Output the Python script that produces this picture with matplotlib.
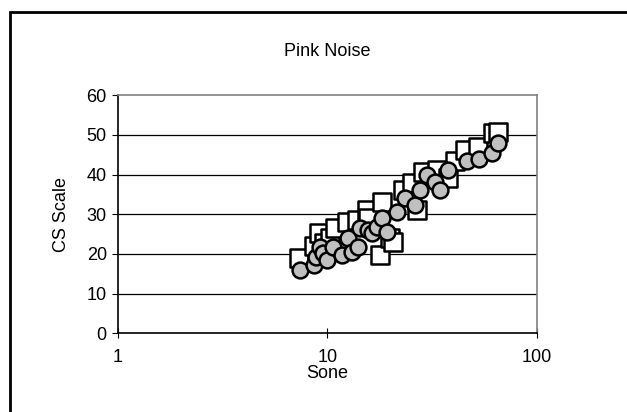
import matplotlib.pyplot as plt
from matplotlib.patches import Rectangle

plt.rcParams['font.family'] = ['Liberation Sans', 'DejaVu Sans']

# squares series (white markers)
sq_x = [7.3, 8.6, 9.1, 9.6, 10.3, 10.9, 12.4, 13.9, 15.5, 15.6, 17.9, 18.3,
        19.9, 20.6, 23.0, 25.4, 26.8, 28.6, 33.4, 37.7, 40.7, 45.3, 52.5,
        61.6, 65.0]
sq_y = [19.0, 21.9, 25.2, 22.8, 24.0, 26.5, 28.1, 28.6, 31.1, 29.0, 19.8, 33.1,
        24.0, 23.0, 36.2, 37.9, 31.0, 40.7, 41.2, 39.1, 43.3, 46.3, 47.0,
        50.5, 50.8]

# circles series (gray markers)
ci_x = [7.4, 8.6, 8.8, 9.2, 9.5, 10.0, 10.7, 11.8, 12.6, 13.1, 14.0, 14.3,
        15.6, 16.4, 17.3, 18.3, 19.3, 21.5, 23.5, 26.2, 27.8, 30.0, 32.7,
        34.5, 37.7, 46.4, 52.8, 61.0, 65.0]
ci_y = [16.0, 17.2, 19.2, 21.8, 20.3, 18.5, 21.8, 19.8, 24.0, 20.5, 21.8, 26.5,
        26.0, 25.2, 26.8, 29.0, 25.6, 30.6, 34.1, 32.4, 36.2, 39.9, 38.2,
        36.1, 41.2, 43.3, 43.8, 45.5, 48.0]

fig = plt.figure(figsize=(6.27, 4.12), dpi=100)
ax = fig.add_axes([0.188, 0.191, 0.668, 0.578])

# outer chart border (cut off at right and bottom)
fig.patches.append(Rectangle((0.016, -0.1), 1.2, 1.071, transform=fig.transFigure,
                             fill=False, edgecolor='black', linewidth=2))

ax.scatter(sq_x, sq_y, marker='s', s=160, facecolor='white', edgecolor='black',
           linewidth=1.8, zorder=3)
ax.scatter(ci_x, ci_y, marker='o', s=130, facecolor='#c0c0c0', edgecolor='black',
           linewidth=1.8, zorder=4)

ax.set_xscale('log')
ax.set_xlim(1, 100)
ax.set_ylim(0, 60)
ax.set_xticks([1, 10, 100])
ax.set_xticklabels(['1', '10', '100'])
ax.minorticks_off()
ax.set_yticks(range(0, 61, 10))

for y in range(10, 60, 10):
    ax.axhline(y, color='black', linewidth=0.9, zorder=1)

ax.spines['left'].set_color('black')
ax.spines['bottom'].set_color('black')
ax.spines['top'].set_color('#808080')
ax.spines['right'].set_color('#808080')
for s in ax.spines.values():
    s.set_linewidth(1.2)

ax.tick_params(axis='y', direction='out', length=4, labelsize=13, pad=4)
ax.tick_params(axis='x', direction='inout', length=7, labelsize=13, pad=8)

ax.set_xlabel('Sone', fontsize=13, labelpad=-1)
ax.set_ylabel('CS Scale', fontsize=13, labelpad=12)
fig.text(0.522, 0.874, 'Pink Noise', ha='center', va='center', fontsize=13)

fig.savefig('out.png', dpi=100)
